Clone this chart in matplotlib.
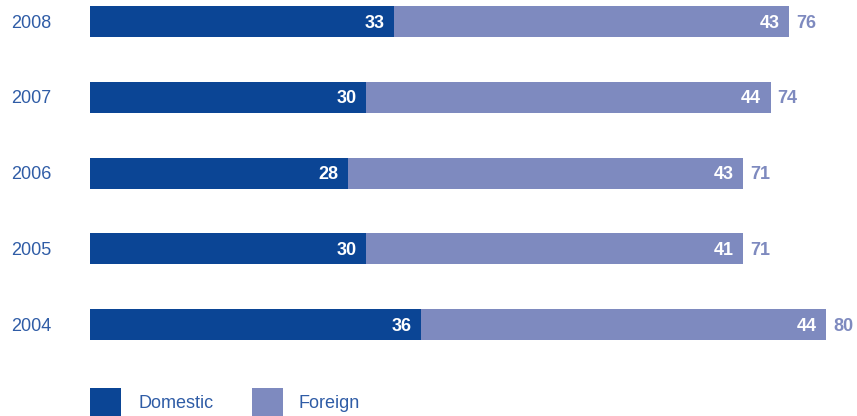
import matplotlib
matplotlib.use("Agg")
import matplotlib.pyplot as plt
from matplotlib.patches import Rectangle
from matplotlib.transforms import blended_transform_factory

plt.rcParams['font.family'] = ['Liberation Sans', 'DejaVu Sans']

years = ["2004", "2005", "2006", "2007", "2008"]
domestic = [36, 30, 28, 30, 33]
foreign = [44, 41, 43, 44, 43]
totals = [80, 71, 71, 74, 76]

DARK = "#0b4595"
LIGHT = "#7e8abf"
YEARC = "#2f5ca6"

W, H = 857, 416
fig = plt.figure(figsize=(W / 100, H / 100), dpi=100)
ax = fig.add_axes([90 / W, 0, (W - 90) / W, 1])
px_per_unit = 9.2
ax.set_xlim(0, (W - 90) / px_per_unit)
spacing = 75.75
ax.set_ylim(-91.5 / spacing, 4 + 21.5 / spacing)
ax.axis("off")

ypos = list(range(len(years)))
bh = 31 / spacing
ax.barh(ypos, domestic, height=bh, color=DARK, linewidth=0)
ax.barh(ypos, foreign, left=domestic, height=bh, color=LIGHT, linewidth=0)

fs = 13
for y, d, f, t, yr in zip(ypos, domestic, foreign, totals, years):
    ax.text(d - 1.0, y - 0.02, str(d), ha="right", va="center", color="white",
            fontsize=fs, fontweight="bold")
    ax.text(d + f - 1.05, y - 0.02, str(f), ha="right", va="center", color="white",
            fontsize=fs, fontweight="bold")
    ax.text(d + f + 0.75, y - 0.02, str(t), ha="left", va="center", color=LIGHT,
            fontsize=fs, fontweight="bold")
    tr = blended_transform_factory(fig.transFigure, ax.transData)
    ax.text(11 / W, y - 0.02, yr, transform=tr, ha="left", va="center",
            color=YEARC, fontsize=fs)

# legend
def px(x, y):
    return x / W, 1 - y / H

for (x0, col, label, tx) in [(90, DARK, "Domestic", 138), (252, LIGHT, "Foreign", 298)]:
    fx, fy = px(x0, 416)
    fig.patches.append(Rectangle((fx, fy), 31 / W, 28 / H, transform=fig.transFigure,
                                 color=col, linewidth=0))
    tx_, ty_ = px(tx, 404)
    fig.text(tx_, ty_, label, ha="left", va="center", color=YEARC, fontsize=fs)

fig.savefig("out.png", dpi=100)
